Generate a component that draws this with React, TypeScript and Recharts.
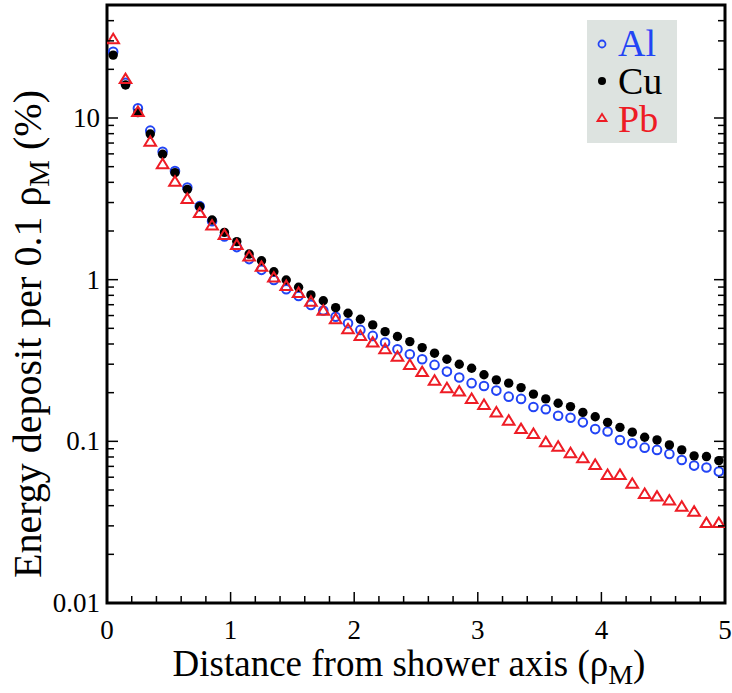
import { ScatterChart, Scatter, XAxis, YAxis, ReferenceArea, Legend } from 'recharts';

// distance from shower axis (bin centres, in rho_M)
const X_VALUES = [
  0.05, 0.15, 0.25, 0.35, 0.45, 0.55, 0.65, 0.75, 0.85, 0.95,
  1.05, 1.15, 1.25, 1.35, 1.45, 1.55, 1.65, 1.75, 1.85, 1.95,
  2.05, 2.15, 2.25, 2.35, 2.45, 2.55, 2.65, 2.75, 2.85, 2.95,
  3.05, 3.15, 3.25, 3.35, 3.45, 3.55, 3.65, 3.75, 3.85, 3.95,
  4.05, 4.15, 4.25, 4.35, 4.45, 4.55, 4.65, 4.75, 4.85, 4.95,
];

// energy deposit per 0.1 rho_M (%)
const AL = [
  25.7, 16.5, 11.5, 8.35, 6.19, 4.7, 3.71, 2.85, 2.3, 1.85,
  1.59, 1.34, 1.15, 0.995, 0.873, 0.793, 0.698, 0.645, 0.59, 0.537,
  0.489, 0.449, 0.408, 0.371, 0.346, 0.322, 0.297, 0.27, 0.248, 0.229,
  0.22, 0.206, 0.189, 0.183, 0.163, 0.158, 0.144, 0.14, 0.131, 0.119,
  0.115, 0.102, 0.0973, 0.0914, 0.0885, 0.0836, 0.0767, 0.0708, 0.0689, 0.065,
];
const CU = [
  24.5, 16.0, 10.8, 7.96, 5.97, 4.59, 3.62, 2.83, 2.34, 1.96,
  1.72, 1.44, 1.31, 1.12, 0.995, 0.898, 0.805, 0.741, 0.671, 0.62,
  0.569, 0.525, 0.477, 0.445, 0.414, 0.38, 0.351, 0.322, 0.3, 0.283,
  0.258, 0.24, 0.229, 0.215, 0.196, 0.183, 0.172, 0.164, 0.151, 0.142,
  0.131, 0.122, 0.114, 0.106, 0.102, 0.095, 0.0885, 0.0813, 0.0805, 0.076,
];
const PB = [
  30.7, 17.4, 10.9, 7.14, 5.18, 4.04, 3.16, 2.58, 2.16, 1.89,
  1.64, 1.39, 1.2, 1.03, 0.914, 0.828, 0.731, 0.643, 0.569, 0.493,
  0.449, 0.408, 0.371, 0.334, 0.297, 0.268, 0.237, 0.213, 0.203, 0.183,
  0.168, 0.151, 0.134, 0.119, 0.111, 0.0988, 0.0927, 0.0845, 0.0787, 0.0715,
  0.062, 0.062, 0.0546, 0.0473, 0.0455, 0.043, 0.0394, 0.0367, 0.0312, 0.0312,
];

const X_TICKS = [
  0, 0.2, 0.4, 0.6, 0.8, 1, 1.2, 1.4, 1.6, 1.8, 2, 2.2, 2.4,
  2.6, 2.8, 3, 3.2, 3.4, 3.6, 3.8, 4, 4.2, 4.4, 4.6, 4.8, 5,
];
const X_LABELS = [0, 1, 2, 3, 4, 5];
const Y_TICKS = [
  0.01, 0.02, 0.03, 0.04, 0.05, 0.06, 0.07, 0.08, 0.09,
  0.1, 0.2, 0.3, 0.4, 0.5, 0.6, 0.7, 0.8, 0.9,
  1, 2, 3, 4, 5, 6, 7, 8, 9,
  10, 20, 30, 40,
];
const Y_LABELS = [0.01, 0.1, 1, 10];

const W = 732;
const H = 693;
const PLOT = { left: 107, top: 5, right: 725, bottom: 603 };
const SERIF = { fontFamily: "'Liberation Serif', 'Times New Roman', Tinos, 'DejaVu Serif', serif" };
const BLUE = '#2244f5';
const RED = '#ee1c25';

const toPoints = (ys: number[]) => ys.map((y, i) => ({ x: X_VALUES[i], y }));

const XTick = ({ x, payload }: any) => {
  const major = X_LABELS.includes(payload.value);
  return (
    <g>
      <line x1={x} x2={x} y1={PLOT.bottom} y2={PLOT.bottom - (major ? 11 : 7)} stroke="#000" strokeWidth={1.5} />
      {major && (
        <text x={x} y={PLOT.bottom + 36} textAnchor="middle" fontSize={27} style={SERIF} fill="#000">
          {payload.value}
        </text>
      )}
    </g>
  );
};

const YTick = ({ y, payload }: any) => {
  const major = Y_LABELS.includes(payload.value);
  const len = major ? 11 : 7;
  return (
    <g>
      <line x1={PLOT.left} x2={PLOT.left + len} y1={y} y2={y} stroke="#000" strokeWidth={1.5} />
      <line x1={PLOT.right} x2={PLOT.right - len} y1={y} y2={y} stroke="#000" strokeWidth={1.5} />
      {major && (
        <text x={PLOT.left - 7} y={y + 9} textAnchor="end" fontSize={27} style={SERIF} fill="#000">
          {String(payload.value)}
        </text>
      )}
    </g>
  );
};

const XTitle = () => (
  <text x={409} y={676} textAnchor="middle" fontSize={37} style={SERIF} fill="#000">
    Distance from shower axis (ρ
    <tspan dy={8} fontSize={28}>M</tspan>
    <tspan dy={-8}>)</tspan>
  </text>
);

const YTitle = () => (
  <text
    x={0}
    y={0}
    transform="translate(41, 334) rotate(-90)"
    textAnchor="middle"
    fontSize={40}
    style={SERIF}
    fill="#000"
  >
    Energy deposit per 0.1 ρ
    <tspan dy={8} fontSize={30}>M</tspan>
    <tspan dy={-8}> (%)</tspan>
  </text>
);

const OpenCircle = ({ cx, cy }: any) => (
  <circle cx={cx} cy={cy} r={4.3} fill="none" stroke={BLUE} strokeWidth={2} />
);
const Dot = ({ cx, cy }: any) => <circle cx={cx} cy={cy} r={4.7} fill="#000" />;
const OpenTriangle = ({ cx, cy }: any) => (
  <polygon
    points={`${cx},${cy - 5.5} ${cx - 5.8},${cy + 4} ${cx + 5.8},${cy + 4}`}
    fill="none"
    stroke={RED}
    strokeWidth={2}
  />
);

const LEGEND_ROWS = [
  { name: 'Al', color: BLUE },
  { name: 'Cu', color: '#000' },
  { name: 'Pb', color: RED },
];

const renderLegend = () => (
  <div style={{ background: '#dde3e0', width: 90, height: 123, position: 'relative' }}>
    <svg width={90} height={123} style={{ position: 'absolute', left: 0, top: 0 }}>
      <circle cx={15} cy={24} r={3.5} fill="none" stroke={BLUE} strokeWidth={1.8} />
      <circle cx={15} cy={61} r={4} fill="#000" />
      <polygon points="15,94 10.5,101 19.5,101" fill="none" stroke={RED} strokeWidth={1.8} />
      {LEGEND_ROWS.map((row, i) => (
        <text key={row.name} x={31} y={36 + i * 38} fontSize={38} style={SERIF} fill={row.color}>
          {row.name}
        </text>
      ))}
    </svg>
  </div>
);

export default function App() {
  return (
    <div style={{ position: 'absolute', left: 0, top: 0, width: W, height: H, background: '#fff' }}>
      <ScatterChart
        width={W}
        height={H}
        margin={{ top: PLOT.top, right: W - PLOT.right, bottom: 0, left: 0 }}
      >
        <XAxis
          type="number"
          dataKey="x"
          domain={[0, 5]}
          ticks={X_TICKS}
          interval={0}
          allowDataOverflow
          height={H - PLOT.bottom}
          tickSize={0}
          tickMargin={0}
          axisLine={false}
          tickLine={false}
          tick={<XTick />}
          label={<XTitle />}
        />
        <YAxis
          type="number"
          dataKey="y"
          scale="log"
          domain={[0.01, 50]}
          ticks={Y_TICKS}
          interval={0}
          allowDataOverflow
          width={PLOT.left}
          tickSize={0}
          tickMargin={0}
          axisLine={false}
          tickLine={false}
          tick={<YTick />}
          label={<YTitle />}
        />
        <ReferenceArea
          x1={0}
          x2={5}
          y1={0.01}
          y2={50}
          fill="none"
          stroke="#000"
          strokeWidth={3}
          ifOverflow="visible"
        />
        <Legend
          layout="vertical"
          align="center"
          verticalAlign="middle"
          wrapperStyle={{ left: 587, top: 20, width: 90, height: 123 }}
          content={renderLegend}
        />
        <Scatter name="Al" data={toPoints(AL)} shape={<OpenCircle />} isAnimationActive={false} />
        <Scatter name="Cu" data={toPoints(CU)} shape={<Dot />} isAnimationActive={false} />
        <Scatter name="Pb" data={toPoints(PB)} shape={<OpenTriangle />} isAnimationActive={false} />
      </ScatterChart>
    </div>
  );
}
